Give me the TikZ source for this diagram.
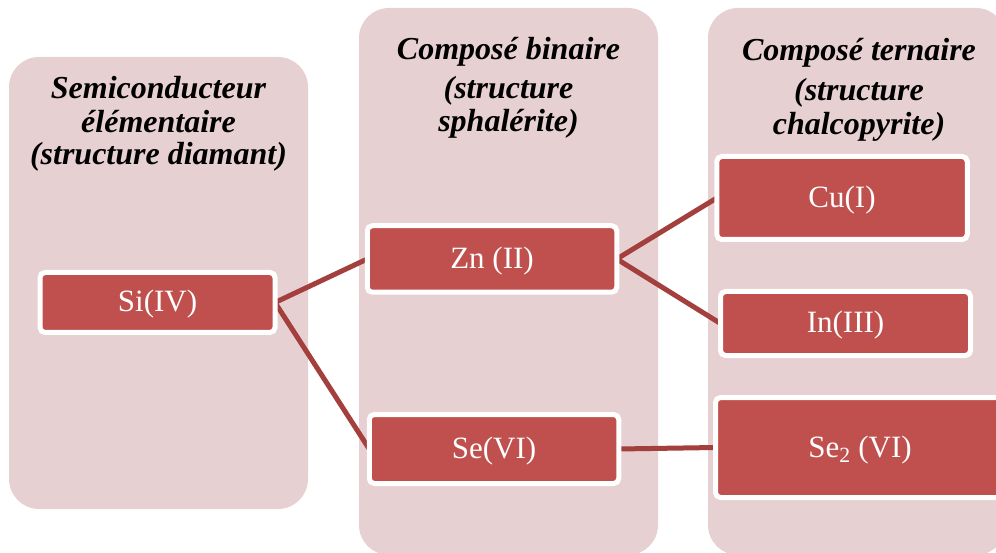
\documentclass[tikz,border=0pt]{standalone}
\usepackage{fontspec}
\setmainfont{Liberation Serif}
\definecolor{colfill}{HTML}{E7D0D1}
\definecolor{boxred}{HTML}{C0504D}
\definecolor{linkred}{HTML}{A3403D}
\pgfdeclarelayer{bg}
\pgfdeclarelayer{links}
\pgfsetlayers{bg,links,main}
\tikzset{
  colbox/.style={fill=colfill, rounded corners=30pt},
  elembox/.style={draw=white, line width=5pt, fill=boxred, rounded corners=5pt,
    inner sep=0pt, outer sep=0pt, text=white, text height=22pt, text depth=3pt,
    font=\fontsize{31}{33}\selectfont},
  headtxt/.style={anchor=base, inner sep=0pt,
    font=\fontsize{32}{33}\selectfont\bfseries\itshape},
  link/.style={draw=linkred, line width=5pt}
}
\begin{document}
\begin{tikzpicture}[x=1pt,y=-1pt]
\useasboundingbox (0,0) rectangle (996,553);
\clip (0,0) rectangle (996,553);
\begin{pgfonlayer}{bg}
  \fill[colbox] (9,57) rectangle (308,509);
  \fill[colbox] (359,8) rectangle (658,555);
  \fill[colbox] (708,8) rectangle (1006,555);
\end{pgfonlayer}

% headers
\node[headtxt] (h1a) at (158.5,99) {Semiconducteur};
\node[headtxt] (h1b) at (158.5,133) {élémentaire};
\node[headtxt] (h1c) at (158.5,165) {(structure diamant)};

\node[headtxt] (h2a) at (508.5,60) {Composé binaire};
\node[headtxt] (h2b) at (508.5,99) {(structure};
\node[headtxt] (h2c) at (508.5,132) {sphalérite)};

\node[headtxt] (h3a) at (859,61) {Composé ternaire};
\node[headtxt] (h3b) at (859,101) {(structure};
\node[headtxt] (h3c) at (859,135) {chalcopyrite)};

% element boxes
\node[elembox, minimum width=235pt, minimum height=60pt] (si) at (157.5,302.5) {Si(IV)};
\node[elembox, minimum width=249.5pt, minimum height=66.5pt] (zn) at (492,259) {Zn (II)};
\node[elembox, minimum width=249.5pt, minimum height=69pt] (se) at (494,449) {Se(VI)};
\node[elembox, minimum width=250.5pt, minimum height=83pt] (cu) at (842,198) {Cu(I)};
\node[elembox, minimum width=250pt, minimum height=64pt] (in) at (845.5,323.5) {In(III)};
\node[elembox, minimum width=289pt, minimum height=100pt] (se2) at (860,447.5) {Se\textsubscript{2} (VI)};

% connectors
\begin{pgfonlayer}{links}
  \draw[link] (si.east) -- (zn.west);
  \draw[link] (si.east) -- (se.west);
  \draw[link] (zn.east) -- (cu.west);
  \draw[link] (zn.east) -- (in.west);
  \draw[link] (se.east) -- (se2.west);
\end{pgfonlayer}
\end{tikzpicture}
\end{document}
